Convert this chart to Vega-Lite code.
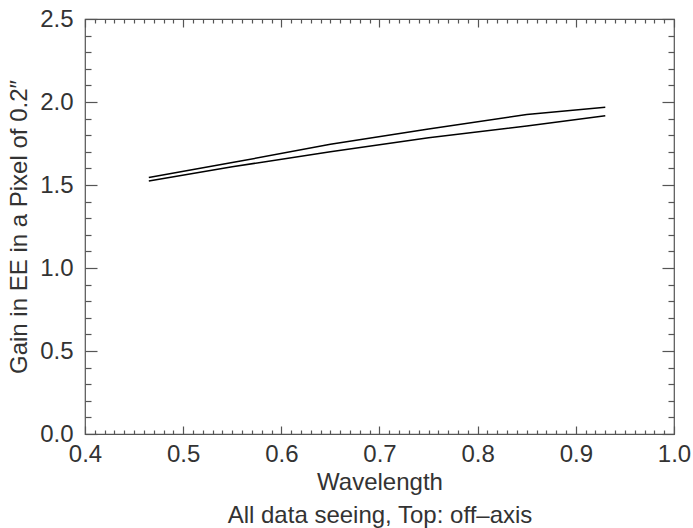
{
  "$schema": "https://vega.github.io/schema/vega-lite/v6.json",
  "width": 589,
  "height": 415,
  "autosize": {"type": "none"},
  "padding": {"left": 85, "top": 19, "right": 19, "bottom": 94},
  "background": "white",
  "config": {
    "view": {"stroke": "#555555", "strokeWidth": 1.2},
    "font": "Liberation Sans",
    "axis": {
      "domain": false,
      "grid": false,
      "labelFlush": false,
      "labelOverlap": false,
      "tickColor": "#555555",
      "tickWidth": 1.2,
      "labelFont": "Liberation Sans",
      "labelFontSize": 24,
      "labelColor": "#333333",
      "titleFont": "Liberation Sans",
      "titleFontSize": 24,
      "titleFontWeight": "normal",
      "titleColor": "#333333"
    }
  },
  "data": {
    "values": [
      {"s": "upper", "w": 0.465, "g": 1.545},
      {"s": "upper", "w": 0.55, "g": 1.635},
      {"s": "upper", "w": 0.65, "g": 1.745},
      {"s": "upper", "w": 0.75, "g": 1.837},
      {"s": "upper", "w": 0.85, "g": 1.925},
      {"s": "upper", "w": 0.93, "g": 1.968},
      {"s": "lower", "w": 0.465, "g": 1.524},
      {"s": "lower", "w": 0.55, "g": 1.61},
      {"s": "lower", "w": 0.65, "g": 1.70},
      {"s": "lower", "w": 0.75, "g": 1.785},
      {"s": "lower", "w": 0.85, "g": 1.855},
      {"s": "lower", "w": 0.93, "g": 1.917}
    ]
  },
  "resolve": {"axis": {"x": "independent", "y": "independent"}},
  "layer": [
    {
      "mark": {"type": "line", "color": "black", "strokeWidth": 1.5},
      "encoding": {
        "x": {"field": "w", "type": "quantitative",
              "scale": {"domain": [0.4, 1.0], "nice": false, "zero": false},
              "axis": {"orient": "bottom", "values": [0.4, 0.5, 0.6, 0.7, 0.8, 0.9, 1.0], "format": ".1f",
                       "tickSize": -8, "labelPadding": 16,
                       "title": ["Wavelength", "All data seeing, Top: off\u2013axis"],
                       "titleLineHeight": 33, "titlePadding": 4}},
        "y": {"field": "g", "type": "quantitative",
              "scale": {"domain": [0, 2.5], "nice": false, "zero": true},
              "axis": {"orient": "left", "values": [0, 0.5, 1.0, 1.5, 2.0, 2.5], "format": ".1f",
                       "tickSize": -12, "labelPadding": 24,
                       "title": "Gain in EE in a Pixel of 0.2\u2033", "titlePadding": 8}},
        "detail": {"field": "s"}
      }
    },
    {
      "mark": {"type": "point", "opacity": 0},
      "encoding": {
        "x": {"field": "w", "type": "quantitative",
              "axis": {"orient": "bottom", "values": [0.41,0.42,0.43,0.44,0.45,0.46,0.47,0.48,0.49,0.51,0.52,0.53,0.54,0.55,0.56,0.57,0.58,0.59,0.61,0.62,0.63,0.64,0.65,0.66,0.67,0.68,0.69,0.71,0.72,0.73,0.74,0.75,0.76,0.77,0.78,0.79,0.81,0.82,0.83,0.84,0.85,0.86,0.87,0.88,0.89,0.91,0.92,0.93,0.94,0.95,0.96,0.97,0.98,0.99],
                       "tickSize": -4, "labels": false, "title": null}},
        "y": {"field": "g", "type": "quantitative",
              "axis": {"orient": "left", "values": [0.1,0.2,0.3,0.4,0.6,0.7,0.8,0.9,1.1,1.2,1.3,1.4,1.6,1.7,1.8,1.9,2.1,2.2,2.3,2.4],
                       "tickSize": -6, "labels": false, "title": null}}
      }
    },
    {
      "mark": {"type": "point", "opacity": 0},
      "encoding": {
        "x": {"field": "w", "type": "quantitative",
              "axis": {"orient": "top", "values": [0.4, 0.5, 0.6, 0.7, 0.8, 0.9, 1.0],
                       "tickSize": -8, "labels": false, "title": null}},
        "y": {"field": "g", "type": "quantitative",
              "axis": {"orient": "right", "values": [0, 0.5, 1.0, 1.5, 2.0, 2.5],
                       "tickSize": -12, "labels": false, "title": null}}
      }
    },
    {
      "mark": {"type": "point", "opacity": 0},
      "encoding": {
        "x": {"field": "w", "type": "quantitative",
              "axis": {"orient": "top", "values": [0.41,0.42,0.43,0.44,0.45,0.46,0.47,0.48,0.49,0.51,0.52,0.53,0.54,0.55,0.56,0.57,0.58,0.59,0.61,0.62,0.63,0.64,0.65,0.66,0.67,0.68,0.69,0.71,0.72,0.73,0.74,0.75,0.76,0.77,0.78,0.79,0.81,0.82,0.83,0.84,0.85,0.86,0.87,0.88,0.89,0.91,0.92,0.93,0.94,0.95,0.96,0.97,0.98,0.99],
                       "tickSize": -4, "labels": false, "title": null}},
        "y": {"field": "g", "type": "quantitative",
              "axis": {"orient": "right", "values": [0.1,0.2,0.3,0.4,0.6,0.7,0.8,0.9,1.1,1.2,1.3,1.4,1.6,1.7,1.8,1.9,2.1,2.2,2.3,2.4],
                       "tickSize": -6, "labels": false, "title": null}}
      }
    }
  ]
}
